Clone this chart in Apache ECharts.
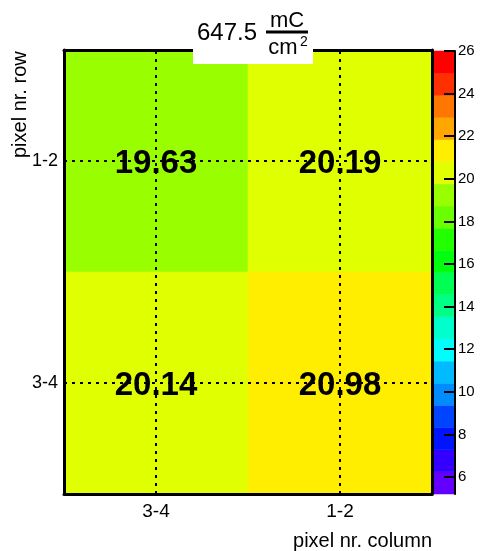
<!DOCTYPE html>
<html>
<head>
<meta charset="utf-8">
<script src="https://cdn.jsdelivr.net/npm/echarts@6/dist/echarts.min.js"></script>
<style>
  html, body { margin: 0; padding: 0; background: #fff; }
  #chart { width: 492px; height: 551px; }
</style>
</head>
<body>
<div id="chart"></div>
<script>
// Pixel groups on each axis (rows listed bottom to top)
const columns = ['3-4', '1-2'];
const rows = ['3-4', '1-2'];

// Mean value per pixel group: [column, row, value]
const cellValues = [
  ['3-4', '1-2', 19.63],
  ['1-2', '1-2', 20.19],
  ['3-4', '3-4', 20.14],
  ['1-2', '3-4', 20.98]
];

// Contour levels of the colour scale (20 bands) and their colours, bottom to top
const contourLevels = [5.2, 6.24, 7.28, 8.32, 9.36, 10.4, 11.44, 12.48, 13.52, 14.56,
  15.6, 16.64, 17.68, 18.72, 19.76, 20.8, 21.84, 22.88, 23.92, 24.96, 26];
const bandColors = ['#6300ff', '#3300ff', '#0014ff', '#0044ff', '#008bff', '#00bbff',
  '#00fffc', '#00ffcc', '#00ff85', '#00ff55', '#00ff0e', '#22ff00', '#69ff00', '#99ff00',
  '#e0ff00', '#ffee00', '#ffa700', '#ff7700', '#ff3000', '#ff0000'];

// Tick labels on the colour scale
const zTicks = [6, 8, 10, 12, 14, 16, 18, 20, 22, 24, 26];

const FONT = '"Liberation Sans", Arial, Helvetica, sans-serif';

const pieces = bandColors.map((c, i) => ({
  gte: contourLevels[i], lt: contourLevels[i + 1], color: c
}));
const bands = bandColors.map((c, i) => [contourLevels[i], contourLevels[i + 1]]);

const chart = echarts.init(document.getElementById('chart'), null, { renderer: 'canvas' });

const frameLine = { show: true, onZero: false, lineStyle: { color: '#000', width: 3 } };

chart.setOption({
  animation: false,
  backgroundColor: '#fff',
  grid: [
    { left: 64, top: 50, width: 368, height: 444 },
    { left: 434, top: 51, width: 21, height: 443 }
  ],
  xAxis: [
    {
      type: 'category', gridIndex: 0, data: columns, position: 'bottom', z: 5,
      axisLine: frameLine,
      axisTick: { alignWithLabel: true, inside: true, length: 10, lineStyle: { color: '#000', width: 2 } },
      axisLabel: { color: '#000', fontSize: 19, fontFamily: FONT, margin: 8 },
      splitLine: { show: false }
    },
    {
      type: 'category', gridIndex: 0, data: columns, position: 'top', z: 5,
      axisLine: frameLine,
      axisTick: { alignWithLabel: true, inside: true, length: 5, lineStyle: { color: '#000', width: 2 } },
      axisLabel: { show: false },
      splitLine: { show: false }
    },
    {
      type: 'value', gridIndex: 1, min: 0, max: 1, show: false
    }
  ],
  yAxis: [
    {
      type: 'category', gridIndex: 0, data: rows, position: 'left', z: 5,
      axisLine: frameLine,
      axisTick: { alignWithLabel: true, inside: true, length: 10, lineStyle: { color: '#000', width: 2 } },
      axisLabel: { color: '#000', fontSize: 18, fontFamily: FONT, margin: 6, padding: [6, 0, 0, 0] },
      splitLine: { show: false }
    },
    {
      type: 'category', gridIndex: 0, data: rows, position: 'right', z: 5,
      axisLine: frameLine,
      axisTick: { show: false },
      axisLabel: { show: false },
      splitLine: { show: false }
    },
    {
      type: 'value', gridIndex: 1, position: 'right', min: 5.2, max: 26, z: 5,
      axisLine: { show: true, onZero: false, lineStyle: { color: '#000', width: 2 } },
      axisTick: {
        show: true, inside: true, length: 11, customValues: zTicks,
        lineStyle: { color: '#000', width: 2 }
      },
      axisLabel: { customValues: zTicks, color: '#000', fontSize: 15, fontFamily: FONT, margin: 3 },
      splitLine: { show: false }
    }
  ],
  visualMap: {
    type: 'piecewise', show: false, seriesIndex: 0, dimension: 2, pieces: pieces
  },
  series: [
    {
      type: 'heatmap',
      xAxisIndex: 0, yAxisIndex: 0,
      data: cellValues,
      itemStyle: { borderWidth: 0 },
      emphasis: { disabled: true },
      label: {
        show: true, color: '#000', fontSize: 33, fontWeight: 'bold', fontFamily: FONT,
        offset: [0, 3],
        formatter: p => p.value[2].toFixed(2)
      },
      markLine: {
        silent: true,
        symbol: ['none', 'none'],
        label: { show: false },
        lineStyle: { color: '#000', width: 2, type: [3, 5] },
        emphasis: { disabled: true },
        data: columns.map(c => ({ xAxis: c })).concat(rows.map(r => ({ yAxis: r })))
      }
    },
    {
      type: 'custom',
      xAxisIndex: 2, yAxisIndex: 2,
      data: bands,
      silent: true,
      renderItem: (params, api) => {
        const top = api.coord([0, api.value(1)]);
        const bottom = api.coord([1, api.value(0)]);
        const color = bandColors[params.dataIndex];
        return {
          type: 'rect',
          shape: { x: top[0], y: top[1], width: bottom[0] - top[0], height: bottom[1] - top[1] },
          style: { fill: color, stroke: color, lineWidth: 0.5 }
        };
      }
    }
  ],
  graphic: [
    // title box with the fluence value
    { type: 'rect', z: 100, shape: { x: 193, y: 0, width: 120, height: 64 }, style: { fill: '#fff' } },
    { type: 'text', z: 101, x: 197, y: 33,
      style: { text: '647.5', font: '24px ' + FONT, fill: '#000', textAlign: 'left', textVerticalAlign: 'middle' } },
    { type: 'text', z: 101, x: 287, y: 21,
      style: { text: 'mC', font: '22px ' + FONT, fill: '#000', textAlign: 'center', textVerticalAlign: 'middle' } },
    { type: 'line', z: 101, shape: { x1: 266, y1: 32, x2: 308, y2: 32 }, style: { stroke: '#000', lineWidth: 3 } },
    { type: 'text', z: 101, x: 283, y: 48,
      style: { text: 'cm', font: '22px ' + FONT, fill: '#000', textAlign: 'center', textVerticalAlign: 'middle' } },
    { type: 'text', z: 101, x: 300, y: 42,
      style: { text: '2', font: '14px ' + FONT, fill: '#000', textAlign: 'left', textVerticalAlign: 'middle' } },
    // axis titles
    { type: 'text', z: 101, x: 432, y: 541,
      style: { text: 'pixel nr. column', font: '20px ' + FONT, fill: '#000', textAlign: 'right', textVerticalAlign: 'middle' } },
    { type: 'text', z: 101, x: 20, y: 158, rotation: Math.PI / 2,
      style: { text: 'pixel nr. row', font: '20px ' + FONT, fill: '#000', textAlign: 'left', textVerticalAlign: 'middle' } }
  ]
});
</script>
</body>
</html>
